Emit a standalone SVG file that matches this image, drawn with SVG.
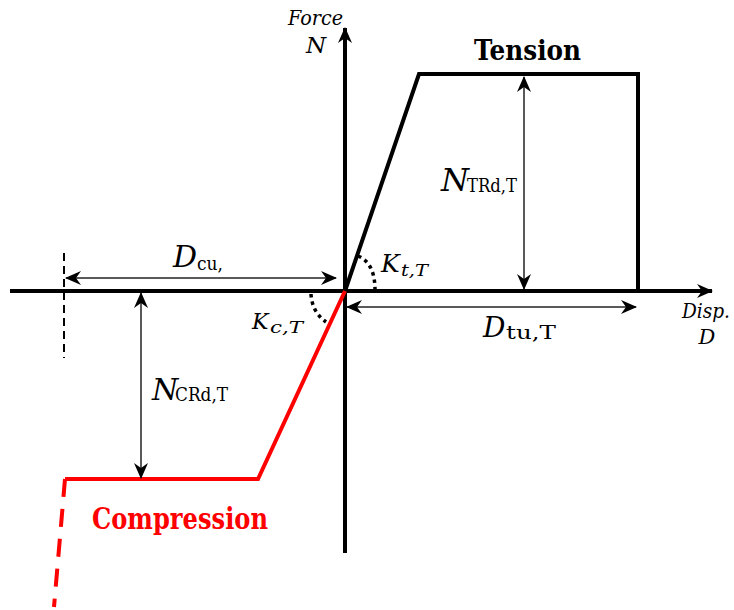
<svg xmlns="http://www.w3.org/2000/svg" width="734" height="610" viewBox="0 0 734 610">
<style>
.axis{stroke:#000;stroke-width:4;fill:none}
.curveT{stroke:#000;stroke-width:4;fill:none;stroke-linejoin:miter}
.curveC{stroke:#ff0000;stroke-width:4;fill:none;stroke-linejoin:miter}
.dim{stroke:#222;stroke-width:1.5;fill:none;marker-start:url(#ah);marker-end:url(#ah)}
.dots{stroke:#000;stroke-width:3.5;fill:none;stroke-dasharray:3.5 4}
text{font-family:"DejaVu Serif","Liberation Serif",serif;fill:#000}
.it{font-style:italic}
.b{font-weight:bold}
</style>
<defs>
<marker id="ah" viewBox="0 0 16 14" refX="15" refY="7" markerWidth="16" markerHeight="14" markerUnits="userSpaceOnUse" orient="auto-start-reverse">
<path d="M0,0 L16,7 L0,14 L5,7 Z" fill="#000"/>
</marker>
<marker id="axh" viewBox="0 0 16 14" refX="15" refY="7" markerWidth="16" markerHeight="14" markerUnits="userSpaceOnUse" orient="auto">
<path d="M0,0 L16,7 L0,14 L5,7 Z" fill="#000"/>
</marker>
</defs>

<g id="axes">
<line class="axis" x1="10" y1="291" x2="712" y2="291" marker-end="url(#axh)"/>
<line class="axis" x1="345" y1="553" x2="345" y2="28" marker-end="url(#axh)"/>
</g>

<g id="tension-curve">
<polyline class="curveT" points="345,291 419,74 638,74 638,291"/>
</g>

<g id="compression-curve">
<polyline class="curveC" points="345,291 258,479 65,479"/>
<line x1="65" y1="479" x2="54" y2="607" stroke="#ff0000" stroke-width="4" stroke-dasharray="18 12"/>
</g>

<g id="limit-line">
<line x1="64" y1="253" x2="64" y2="358" stroke="#000" stroke-width="2" stroke-dasharray="8 5"/>
</g>

<g id="connectors">
<line class="dim" x1="336" y1="278" x2="66" y2="278"/>
<line class="dim" x1="347" y1="307" x2="636" y2="307"/>
<line class="dim" x1="524" y1="289" x2="524" y2="77"/>
<line class="dim" x1="141" y1="293" x2="141" y2="478"/>
<path class="dots" d="M358,256 Q375,263 375,290"/>
<path class="dots" d="M311,294 Q312,312 326,322"/>
</g>

<g id="labels">
<text class="it" x="288" y="25" font-size="20" textLength="55" lengthAdjust="spacingAndGlyphs">Force</text>
<text class="it" x="316" y="53" font-size="23" text-anchor="middle">N</text>
<text class="b" x="474" y="60" font-size="27" textLength="107" lengthAdjust="spacingAndGlyphs">Tension</text>
<text class="b" x="92" y="529" font-size="30" textLength="176" lengthAdjust="spacingAndGlyphs" style="fill:#ff0000">Compression</text>
<text class="it" x="441" y="191" font-size="32">N</text>
<text x="467" y="192" font-size="18" textLength="50" lengthAdjust="spacingAndGlyphs">TRd,T</text>
<text class="it" x="173" y="267" font-size="30">D</text>
<text x="197" y="270" font-size="18" textLength="26" lengthAdjust="spacingAndGlyphs">cu,</text>
<text class="it" x="483" y="337" font-size="28">D</text>
<text x="506" y="339" font-size="18" textLength="50" lengthAdjust="spacingAndGlyphs">tu,T</text>
<text class="it" x="152" y="400" font-size="30">N</text>
<text x="175" y="401" font-size="18" textLength="53" lengthAdjust="spacingAndGlyphs">CRd,T</text>
<text class="it" x="381" y="272" font-size="25">K</text>
<text class="it" x="401" y="276" font-size="17" textLength="27" lengthAdjust="spacingAndGlyphs">t,T</text>
<text class="it" x="252" y="329" font-size="22">K</text>
<text class="it" x="270" y="333" font-size="16" textLength="33" lengthAdjust="spacingAndGlyphs">c,T</text>
<text class="it" x="682" y="318" font-size="20" textLength="48" lengthAdjust="spacingAndGlyphs">Disp.</text>
<text class="it" x="707" y="344" font-size="21" text-anchor="middle">D</text>
</g>
</svg>
